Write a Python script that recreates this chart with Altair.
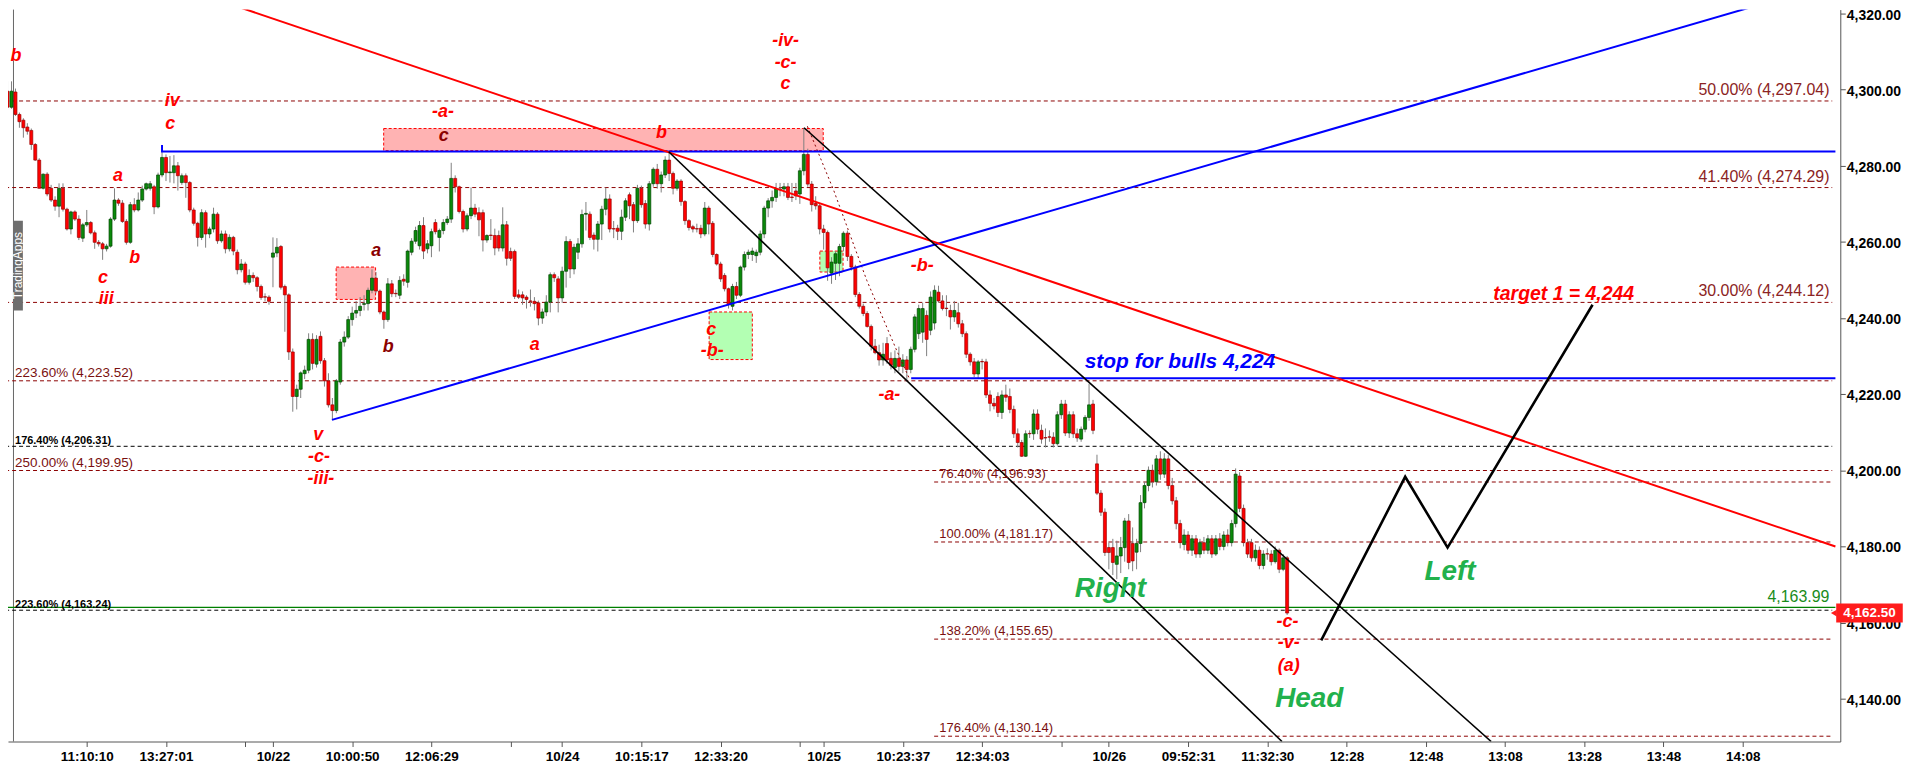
import json
import altair as alt
import pandas as pd

# ---------------- candle data (bar index = position in list) ----------------
OPEN = [4299.6, 4295.4, 4299.4, 4293.5, 4292.0, 4290.2, 4289.3, 4285.6, 4281.5, 4274.1,
        4277.8, 4274.1, 4271.0, 4269.4, 4274.1, 4268.6, 4263.4, 4267.9, 4266.0, 4261.0,
        4264.5, 4265.1, 4262.4, 4259.9, 4259.5, 4258.2, 4258.9, 4266.0, 4271.0, 4270.2,
        4265.4, 4259.9, 4269.8, 4268.4, 4271.0, 4273.9, 4274.1, 4274.5, 4269.2, 4277.6,
        4282.2, 4278.2, 4278.2, 4280.0, 4275.6, 4277.4, 4275.6, 4268.4, 4264.9, 4261.2,
        4267.7, 4262.1, 4263.4, 4267.3, 4260.3, 4262.1, 4258.2, 4261.2, 4257.3, 4252.7,
        4254.2, 4249.4, 4251.2, 4250.6, 4248.3, 4245.6, 4245.5, 4256.0, 4257.1, 4258.8,
        4248.3, 4246.1, 4231.1, 4219.4, 4221.3, 4225.4, 4226.3, 4234.4, 4227.9, 4235.2,
        4228.8, 4223.5, 4217.2, 4215.7, 4223.2, 4233.7, 4235.0, 4239.6, 4241.3, 4242.0,
        4243.6, 4243.8, 4247.3, 4250.5, 4247.1, 4241.6, 4239.6, 4249.0, 4246.5, 4246.0,
        4250.2, 4249.4, 4257.3, 4260.2, 4259.0, 4264.3, 4258.2, 4259.0, 4265.1, 4261.2,
        4263.0, 4265.1, 4266.0, 4276.7, 4274.5, 4268.0, 4263.4, 4266.9, 4268.9, 4267.7,
        4267.7, 4260.5, 4261.8, 4261.7, 4261.7, 4258.4, 4264.5, 4257.5, 4257.5, 4246.1,
        4246.1, 4245.5, 4244.5, 4244.4, 4244.0, 4240.0, 4241.6, 4244.2, 4251.4, 4250.3,
        4245.3, 4252.3, 4260.1, 4252.9, 4257.3, 4259.5, 4267.3, 4267.3, 4261.8, 4260.7,
        4264.7, 4268.6, 4271.3, 4263.5, 4263.6, 4262.8, 4266.5, 4272.4, 4269.8, 4265.6,
        4274.1, 4270.1, 4264.7, 4275.3, 4279.1, 4275.3, 4277.6, 4281.5, 4278.0, 4274.1,
        4276.0, 4270.6, 4265.6, 4264.0, 4263.5, 4263.6, 4262.1, 4268.9, 4264.9, 4256.7,
        4254.2, 4251.2, 4247.7, 4243.1, 4248.3, 4246.0, 4253.4, 4256.7, 4256.7, 4256.4,
        4257.3, 4262.1, 4268.9, 4270.8, 4271.7, 4273.8, 4273.9, 4274.5, 4271.8, 4273.4,
        4272.6, 4278.7, 4283.0, 4275.2, 4270.1, 4269.5, 4263.4, 4262.5, 4251.8, 4254.4,
        4254.4, 4258.8, 4262.3, 4256.2, 4253.4, 4246.2, 4243.1, 4241.2, 4237.8, 4232.6,
        4230.9, 4229.0, 4233.3, 4229.4, 4227.0, 4229.4, 4227.3, 4229.0, 4226.5, 4231.8,
        4235.9, 4236.3, 4240.7, 4236.8, 4238.7, 4246.8, 4244.5, 4242.6, 4242.0, 4240.3,
        4241.4, 4238.5, 4235.9, 4230.5, 4228.5, 4225.3, 4228.6, 4228.5, 4219.8, 4217.6,
        4219.4, 4215.2, 4219.8, 4219.4, 4216.0, 4209.6, 4207.3, 4203.7, 4209.7, 4209.6,
        4214.8, 4210.5, 4208.6, 4208.8, 4208.7, 4207.0, 4214.6, 4217.4, 4209.8, 4214.6,
        4209.6, 4208.2, 4210.8, 4213.9, 4217.4, 4201.7, 4194.0, 4189.0, 4179.7, 4179.7,
        4175.3, 4177.5, 4179.7, 4186.7, 4180.8, 4178.5, 4180.8, 4191.5, 4196.0, 4200.0,
        4197.0, 4203.0, 4199.0, 4203.0, 4196.0, 4192.0, 4186.0, 4180.5, 4183.0, 4179.0,
        4182.0, 4178.0, 4181.0, 4179.0, 4182.0, 4178.0, 4182.0, 4180.0, 4183.0, 4181.0,
        4186.0, 4198.5, 4190.0, 4181.0, 4181.0, 4177.0, 4179.0, 4175.0, 4178.1, 4178.0,
        4176.0, 4179.0, 4174.0, 4177.0]
HIGH = [4302.2, 4302.2, 4300.3, 4294.0, 4292.5, 4291.2, 4289.8, 4286.0, 4282.0, 4278.0,
        4278.3, 4275.0, 4272.0, 4275.4, 4275.4, 4269.0, 4268.2, 4268.3, 4267.0, 4265.0,
        4268.4, 4265.5, 4263.0, 4260.5, 4260.0, 4259.5, 4266.5, 4274.1, 4271.5, 4271.0,
        4266.0, 4270.5, 4271.5, 4273.0, 4274.8, 4275.6, 4276.0, 4275.0, 4278.2, 4284.3,
        4283.0, 4282.6, 4282.8, 4281.0, 4278.0, 4278.0, 4276.0, 4269.0, 4265.3, 4268.6,
        4268.3, 4264.0, 4269.0, 4267.8, 4263.0, 4263.0, 4262.0, 4261.6, 4258.0, 4255.5,
        4254.8, 4252.8, 4252.0, 4251.0, 4248.8, 4246.5, 4246.0, 4261.2, 4261.0, 4259.2,
        4248.8, 4246.5, 4232.0, 4222.5, 4226.0, 4227.5, 4236.0, 4236.0, 4235.5, 4236.5,
        4229.5, 4225.5, 4219.0, 4224.0, 4234.5, 4236.5, 4240.5, 4243.0, 4244.5, 4245.5,
        4246.0, 4248.0, 4252.8, 4252.1, 4247.5, 4242.0, 4250.5, 4250.0, 4247.5, 4251.0,
        4251.5, 4258.0, 4261.0, 4264.0, 4265.5, 4266.5, 4260.5, 4263.5, 4266.0, 4263.5,
        4266.0, 4266.8, 4280.8, 4277.5, 4274.8, 4268.5, 4267.5, 4274.3, 4270.0, 4269.1,
        4268.5, 4262.0, 4266.0, 4263.5, 4263.0, 4269.1, 4265.5, 4258.5, 4258.0, 4247.5,
        4247.0, 4246.0, 4247.5, 4245.5, 4244.6, 4242.5, 4246.0, 4252.0, 4252.0, 4251.0,
        4253.5, 4261.5, 4260.8, 4259.5, 4261.0, 4268.5, 4270.5, 4268.0, 4262.5, 4265.5,
        4269.5, 4274.3, 4272.5, 4265.5, 4264.5, 4268.5, 4271.5, 4273.0, 4270.5, 4275.0,
        4274.8, 4271.0, 4276.0, 4279.6, 4280.5, 4278.5, 4282.5, 4283.7, 4278.5, 4276.5,
        4276.5, 4271.0, 4266.0, 4264.5, 4264.8, 4264.5, 4270.5, 4269.5, 4265.5, 4257.0,
        4254.8, 4251.8, 4248.0, 4249.0, 4249.5, 4253.8, 4257.5, 4258.0, 4258.5, 4258.0,
        4263.0, 4269.5, 4271.5, 4273.5, 4275.5, 4275.5, 4275.5, 4275.5, 4275.5, 4275.5,
        4279.5, 4290.0, 4284.5, 4276.0, 4272.0, 4270.0, 4264.5, 4263.0, 4256.0, 4257.5,
        4259.5, 4262.8, 4263.0, 4256.8, 4254.0, 4246.8, 4243.8, 4241.8, 4238.3, 4234.5,
        4233.0, 4233.5, 4235.0, 4231.0, 4231.5, 4232.5, 4230.5, 4230.0, 4232.5, 4241.0,
        4243.5, 4244.0, 4242.0, 4247.0, 4248.6, 4248.5, 4246.0, 4246.0, 4243.5, 4244.5,
        4244.0, 4239.5, 4236.5, 4231.0, 4229.5, 4229.0, 4229.3, 4229.3, 4221.0, 4219.0,
        4220.5, 4221.0, 4222.5, 4221.5, 4217.0, 4211.0, 4208.0, 4210.5, 4210.5, 4216.0,
        4216.0, 4212.0, 4211.0, 4210.5, 4210.0, 4215.5, 4218.5, 4218.5, 4215.5, 4215.5,
        4211.0, 4211.5, 4214.5, 4222.7, 4218.5, 4204.1, 4194.8, 4190.0, 4181.0, 4182.0,
        4181.5, 4182.5, 4187.5, 4188.5, 4185.0, 4182.0, 4193.5, 4197.0, 4201.0, 4201.5,
        4204.0, 4205.0, 4204.5, 4204.0, 4198.0, 4193.0, 4187.0, 4184.5, 4184.0, 4183.0,
        4183.0, 4182.0, 4182.5, 4183.0, 4183.0, 4183.0, 4183.5, 4184.0, 4184.5, 4187.0,
        4200.5, 4199.5, 4191.0, 4182.0, 4182.0, 4180.5, 4180.0, 4179.0, 4179.5, 4179.0,
        4180.0, 4179.5, 4178.0, 4177.5]
LOW = [4294.8, 4295.0, 4293.1, 4290.0, 4287.4, 4288.2, 4284.2, 4281.3, 4274.0, 4273.8,
       4272.0, 4270.5, 4268.2, 4266.5, 4268.0, 4263.0, 4262.0, 4265.5, 4260.5, 4260.0,
       4264.0, 4262.0, 4258.2, 4258.8, 4255.3, 4257.5, 4258.5, 4265.5, 4269.5, 4265.0,
       4259.3, 4259.5, 4267.8, 4268.0, 4270.5, 4273.5, 4273.5, 4267.3, 4268.8, 4277.0,
       4276.0, 4275.6, 4275.4, 4273.5, 4275.0, 4271.6, 4267.8, 4264.3, 4258.8, 4260.5,
       4258.5, 4261.0, 4262.5, 4259.5, 4259.8, 4257.0, 4257.5, 4256.5, 4251.5, 4252.0,
       4248.8, 4248.8, 4249.5, 4247.0, 4244.8, 4244.4, 4243.5, 4248.1, 4256.0, 4247.5,
       4236.4, 4229.0, 4215.4, 4216.0, 4219.0, 4224.0, 4225.5, 4226.5, 4227.0, 4228.0,
       4222.0, 4216.5, 4213.3, 4215.0, 4222.5, 4232.5, 4234.5, 4238.0, 4240.0, 4240.5,
       4242.0, 4242.0, 4246.5, 4246.5, 4241.0, 4237.2, 4239.0, 4245.5, 4245.5, 4245.0,
       4248.5, 4248.0, 4256.5, 4259.5, 4258.0, 4255.5, 4257.0, 4256.0, 4262.0, 4257.5,
       4262.0, 4264.5, 4265.0, 4273.0, 4267.5, 4262.5, 4262.8, 4266.0, 4266.5, 4261.5,
       4257.5, 4259.8, 4260.5, 4256.5, 4257.5, 4257.5, 4253.8, 4255.0, 4245.0, 4245.0,
       4243.5, 4242.5, 4243.0, 4242.0, 4238.1, 4238.5, 4240.5, 4241.5, 4249.5, 4241.5,
       4244.0, 4248.0, 4250.5, 4251.5, 4255.5, 4258.5, 4263.0, 4260.5, 4258.0, 4257.5,
       4260.5, 4267.0, 4262.5, 4261.0, 4260.5, 4260.5, 4265.5, 4266.0, 4262.5, 4265.0,
       4269.0, 4263.5, 4263.0, 4274.5, 4274.0, 4273.0, 4276.8, 4276.0, 4272.5, 4273.5,
       4269.5, 4264.5, 4263.0, 4262.5, 4262.5, 4261.0, 4261.5, 4262.0, 4256.0, 4253.8,
       4249.5, 4247.0, 4242.5, 4242.0, 4245.0, 4245.5, 4252.5, 4255.5, 4255.0, 4254.5,
       4256.5, 4261.0, 4266.5, 4269.0, 4270.5, 4272.0, 4272.0, 4271.0, 4270.5, 4271.0,
       4270.0, 4277.5, 4274.5, 4268.0, 4268.5, 4262.0, 4258.0, 4249.8, 4249.0, 4250.0,
       4251.0, 4257.5, 4255.0, 4252.5, 4245.5, 4242.5, 4240.5, 4237.5, 4231.5, 4230.5,
       4227.5, 4227.5, 4228.0, 4226.5, 4225.5, 4226.0, 4225.5, 4223.7, 4225.5, 4231.0,
       4234.5, 4233.5, 4230.0, 4235.5, 4237.0, 4244.0, 4242.0, 4240.5, 4237.0, 4239.0,
       4237.5, 4235.0, 4229.5, 4227.5, 4224.5, 4224.0, 4226.5, 4219.0, 4215.5, 4216.0,
       4214.0, 4213.5, 4218.0, 4215.0, 4208.5, 4206.0, 4203.5, 4203.5, 4208.5, 4208.0,
       4209.5, 4207.0, 4206.0, 4207.5, 4206.0, 4206.5, 4213.5, 4209.0, 4208.5, 4208.5,
       4207.5, 4207.5, 4210.0, 4213.0, 4209.5, 4193.5, 4188.0, 4177.5, 4174.0, 4172.5,
       4171.4, 4173.0, 4176.0, 4174.0, 4173.5, 4174.0, 4178.5, 4190.0, 4194.5, 4195.5,
       4196.0, 4197.5, 4198.0, 4195.0, 4191.0, 4184.5, 4179.5, 4179.0, 4178.0, 4177.5,
       4177.0, 4177.0, 4178.0, 4178.0, 4177.0, 4177.5, 4179.0, 4179.0, 4180.0, 4180.0,
       4185.0, 4189.0, 4180.0, 4177.0, 4176.0, 4176.0, 4174.0, 4174.0, 4176.5, 4175.0,
       4175.5, 4173.0, 4173.5, 4162.0]
CLOSE = [4295.4, 4299.6, 4293.5, 4291.6, 4290.0, 4289.1, 4285.6, 4281.5, 4274.1, 4277.8,
         4272.6, 4271.0, 4269.4, 4274.1, 4268.6, 4263.4, 4267.9, 4266.0, 4261.2, 4264.5,
         4265.1, 4262.4, 4259.9, 4259.5, 4258.2, 4258.9, 4266.0, 4271.0, 4270.2, 4265.4,
         4259.9, 4269.8, 4268.4, 4271.0, 4273.9, 4275.3, 4275.3, 4269.2, 4277.6, 4282.2,
         4278.2, 4278.4, 4280.0, 4277.4, 4277.4, 4275.6, 4268.4, 4264.9, 4261.2, 4267.7,
         4262.1, 4263.4, 4267.3, 4260.3, 4262.1, 4258.2, 4261.2, 4257.6, 4252.7, 4254.2,
         4249.4, 4251.2, 4250.6, 4248.3, 4245.4, 4245.5, 4244.4, 4257.1, 4258.6, 4248.1,
         4246.1, 4231.1, 4219.4, 4221.3, 4225.6, 4226.3, 4234.4, 4228.1, 4234.4, 4228.8,
         4223.5, 4217.2, 4215.7, 4223.5, 4233.7, 4235.0, 4239.6, 4241.3, 4242.0, 4243.1,
         4243.8, 4247.3, 4250.5, 4247.1, 4241.6, 4239.6, 4249.0, 4246.4, 4246.4, 4249.9,
         4249.7, 4257.6, 4260.2, 4263.0, 4264.3, 4257.6, 4259.5, 4262.7, 4262.7, 4263.0,
         4265.1, 4266.0, 4276.7, 4274.5, 4268.0, 4263.4, 4266.9, 4268.9, 4267.3, 4265.8,
         4260.5, 4261.7, 4261.7, 4258.4, 4258.4, 4264.5, 4255.7, 4255.7, 4245.7, 4245.5,
         4245.3, 4244.9, 4244.4, 4243.8, 4240.0, 4241.6, 4244.2, 4251.4, 4250.6, 4245.3,
         4252.3, 4260.1, 4252.9, 4258.6, 4259.5, 4267.2, 4267.5, 4261.2, 4260.7, 4264.7,
         4268.6, 4271.3, 4263.4, 4263.4, 4262.8, 4266.5, 4270.8, 4269.5, 4265.6, 4274.1,
         4269.8, 4264.7, 4275.3, 4279.1, 4275.3, 4277.6, 4281.5, 4278.0, 4274.1, 4276.0,
         4270.6, 4265.6, 4263.8, 4263.4, 4263.4, 4262.1, 4268.9, 4264.7, 4256.7, 4254.2,
         4250.3, 4247.7, 4243.6, 4248.3, 4246.0, 4253.4, 4256.7, 4257.3, 4257.6, 4257.3,
         4262.1, 4268.9, 4270.8, 4271.7, 4273.9, 4273.9, 4274.5, 4271.7, 4271.7, 4272.1,
         4278.7, 4283.0, 4275.2, 4269.8, 4269.5, 4263.4, 4262.5, 4253.2, 4254.7, 4256.9,
         4258.8, 4262.3, 4256.2, 4253.4, 4246.2, 4243.1, 4241.2, 4237.8, 4232.6, 4230.9,
         4229.0, 4230.5, 4229.0, 4227.6, 4229.4, 4227.3, 4229.0, 4226.5, 4231.8, 4240.3,
         4242.5, 4242.5, 4234.4, 4245.5, 4247.3, 4244.5, 4242.5, 4242.5, 4240.3, 4242.0,
         4238.5, 4235.9, 4230.5, 4228.5, 4225.3, 4228.5, 4228.5, 4219.8, 4217.6, 4216.9,
         4215.2, 4219.8, 4219.2, 4216.0, 4209.6, 4207.3, 4203.7, 4209.6, 4209.6, 4214.8,
         4210.8, 4208.2, 4208.5, 4208.7, 4207.0, 4214.6, 4217.4, 4209.8, 4214.6, 4209.6,
         4208.5, 4210.8, 4213.9, 4217.2, 4210.5, 4194.0, 4189.0, 4178.4, 4178.4, 4175.8,
         4177.5, 4179.7, 4186.7, 4175.8, 4176.2, 4180.8, 4191.5, 4196.0, 4200.0, 4197.0,
         4203.0, 4199.0, 4203.0, 4196.0, 4192.0, 4186.0, 4181.0, 4183.0, 4179.0, 4182.0,
         4178.0, 4181.0, 4179.0, 4182.0, 4178.0, 4182.0, 4180.0, 4183.0, 4181.0, 4186.0,
         4199.0, 4190.0, 4181.0, 4178.0, 4177.0, 4179.0, 4175.0, 4178.0, 4178.0, 4176.0,
         4179.0, 4174.0, 4177.0, 4162.5]

# ---------------- axes ----------------
TICK_BARS = [20, 40, 60, 67, 87, 107, 127, 140, 160, 180, 200, 206, 226, 246, 266,
             278, 298, 318, 338, 358, 378, 398, 418, 438]
TICK_TEXT = ["11:10:10", "13:27:01", "", "10/22", "10:00:50", "12:06:29", "", "10/24",
             "10:15:17", "12:33:20", "", "10/25", "10:23:37", "12:34:03", "", "10/26",
             "09:52:31", "11:32:30", "12:28", "12:48", "13:08", "13:28", "13:48", "14:08"]
PRICE_TICKS = [4140, 4160, 4180, 4200, 4220, 4240, 4260, 4280, 4300, 4320]
LAST_PRICE = 4162.50

# ---------------- fibonacci levels ----------------
FIB_RIGHT_VALUES = [4297.04, 4274.29, 4244.12]
FIB_RIGHT_TEXT = ["50.00% (4,297.04)", "41.40% (4,274.29)", "30.00% (4,244.12)"]
FIB_LEFT_VALUES = [4223.52, 4199.95]
FIB_LEFT_TEXT = ["223.60% (4,223.52)", "250.00% (4,199.95)"]
FIB_BLACK_VALUES = [4206.31, 4163.24]
FIB_BLACK_TEXT = ["176.40% (4,206.31)", "223.60% (4,163.24)"]
FIB_MID_VALUES = [4196.93, 4181.17, 4155.65, 4130.14]
FIB_MID_TEXT = ["76.40% (4,196.93)", "100.00% (4,181.17)", "138.20% (4,155.65)", "176.40% (4,130.14)"]
GREEN_LEVEL = 4163.99
FULL_START, MID_START, LEVEL_END = -0.6, 233.9, 460.6

# ---------------- drawings (bar, price) ----------------
RED_LINE = [(53.0, 4323.6), (461.4, 4180.0)]
BLUE_RISE = [(81.9, 4213.25), (444.8, 4323.1)]
BLUE_FLAT = [(39.0, 4285.5), (39.0, 4283.75), (461.4, 4283.75)]
BLUE_STOP = [(228.1, 4224.17), (461.4, 4224.17)]
CHANNEL_A = [(166.9, 4283.7), (321.7, 4128.75)]
CHANNEL_B = [(201.05, 4290.0), (374.5, 4128.75)]
FORECAST = [(331.6, 4155.3), (352.8, 4198.3), (363.5, 4179.7), (400.1, 4243.5)]
DOTTED = [(201.9, 4290.4), (208.6, 4273.4), (216.9, 4249.9), (224.4, 4231.6), (227.6, 4224.2)]

# boxes: (b0, b1, p0, p1)
PINK_BOXES = [(94.95, 205.9, 4284.0, 4289.8), (82.95, 92.9, 4244.9, 4253.4)]
GREEN_BOXES = [(177.1, 188.0, 4229.1, 4241.6), (205.05, 210.9, 4252.1, 4257.6)]

# ---------------- wave labels ----------------
WAVE_TEXT = ["b", "iv", "c", "a", "b", "c", "iii", "a", "b", "v", "-c-", "-iii-", "a",
             "-iv-", "-c-", "c", "-a-", "c", "b", "c", "-b-", "-a-", "-b-", "-c-", "-v-", "(a)"]
WAVE_B = [2.1, 41.6, 41.1, 27.9, 32.1, 24.1, 24.9, 93.1, 96.1, 78.4, 78.6, 79.1, 133.1,
          196.4, 196.4, 196.4, 109.9, 110.1, 165.1, 177.6, 177.9, 222.6, 230.9, 323.1, 323.4, 323.4]
WAVE_P = [4308.75, 4296.98, 4290.96, 4277.35, 4255.9, 4250.4, 4244.9, 4257.7, 4232.4, 4209.3,
          4203.6, 4197.6, 4232.9, 4312.9, 4306.9, 4301.4, 4294.1, 4287.8, 4288.6, 4236.8,
          4231.3, 4219.8, 4253.8, 4160.1, 4154.6, 4148.6]
WAVE_COLOR = ["#ff0000", "#ff0000", "#ff0000", "#ff0000", "#ff0000", "#ff0000", "#ff0000",
              "#8b0000", "#8b0000", "#ff0000", "#ff0000", "#ff0000", "#ff0000",
              "#ff0000", "#ff0000", "#ff0000", "#ff0000", "#8b0000", "#ff0000", "#ff0000",
              "#ff0000", "#ff0000", "#ff0000", "#ff0000", "#ff0000", "#ff0000"]

PATTERN_TEXT = ["Right", "Head", "Left"]
PATTERN_B = [278.4, 328.6, 364.1]
PATTERN_P = [4168.8, 4140.0, 4173.4]

TARGET = ("target 1 = 4,244", 375.05, 4244.8)
STOP = ("stop for bulls 4,224", 271.9, 4226.8)

# ---------------- scales / axes ----------------
XS = alt.Scale(domain=[1.375, 461.375], nice=False, zero=False)
YS = alt.Scale(domain=[4128.75, 4321.05], nice=False, zero=False)
FONT = "Liberation Sans"

label_expr = f"{json.dumps(TICK_TEXT)}[indexof({json.dumps(TICK_BARS)}, datum.value)]"
X_AXIS = alt.Axis(values=TICK_BARS, labelExpr=label_expr, grid=False, tickSize=5,
                  tickColor="#555555", domainColor="#555555", labelFont=FONT,
                  labelFontWeight="bold", labelFontSize=13.5, labelColor="black",
                  labelPadding=3, title=None, labelOverlap=False, labelFlush=False)
Y_AXIS = alt.Axis(orient="right", values=PRICE_TICKS, format=",.2f", grid=False, tickSize=5,
                  tickColor="#555555", domainColor="#555555", labelFont=FONT,
                  labelFontWeight="bold", labelFontSize=14, labelColor="black",
                  labelPadding=1, labelOffset=1.5, title=None, labelFlush=False)


def X(field):
    return alt.X(field, type="quantitative", scale=XS, axis=X_AXIS)


def Y(field):
    return alt.Y(field, type="quantitative", scale=YS, axis=Y_AXIS)


candles = pd.DataFrame({"b": list(range(len(OPEN))), "open": OPEN, "high": HIGH,
                        "low": LOW, "close": CLOSE})
candles["dir"] = ["up" if c >= o else "down" for o, c in zip(OPEN, CLOSE)]

layers = []

# left frame line
frame = pd.DataFrame({"b": [1.5], "p0": [4128.75], "p1": [4321.05]})
layers.append(alt.Chart(frame).mark_rule(color="#666666", strokeWidth=1).encode(
    x=X("b"), y=Y("p0"), y2="p1"))


def boxes(rows, fill):
    df = pd.DataFrame(rows, columns=["b0", "b1", "p0", "p1"])
    return alt.Chart(df).mark_rect(fill=fill, stroke="#ff0000", strokeDash=[3, 2],
                                   strokeWidth=1, clip=True).encode(
        x=X("b0"), x2="b1", y=Y("p0"), y2="p1")


layers.append(boxes(PINK_BOXES, "#ffb3b3"))
layers.append(boxes(GREEN_BOXES, "#b3ffb3"))


def hlines(values, b0, b1, color, dash, width=1):
    df = pd.DataFrame({"p": values, "b0": b0, "b1": b1})
    kw = dict(color=color, strokeWidth=width, clip=True)
    if dash:
        kw["strokeDash"] = dash
    return alt.Chart(df).mark_rule(**kw).encode(x=X("b0"), x2="b1", y=Y("p"))


layers.append(hlines(FIB_RIGHT_VALUES + FIB_LEFT_VALUES, FULL_START, LEVEL_END, "#8b0000", [4, 3]))
layers.append(hlines(FIB_MID_VALUES, MID_START, LEVEL_END, "#8b0000", [4, 3]))
layers.append(hlines(FIB_BLACK_VALUES, FULL_START, LEVEL_END, "#000000", [4, 3]))
layers.append(hlines([GREEN_LEVEL], FULL_START, 461.4, "#008000", None, 1.2))

# watermark
wm = pd.DataFrame({"b0": [1.375], "b1": [3.875], "p0": [4242.0], "p1": [4265.6],
                   "b": [2.6], "p": [4253.8], "t": ["TradingApps"]})
layers.append(alt.Chart(wm).mark_rect(fill="#6e6e6e").encode(x=X("b0"), x2="b1", y=Y("p0"), y2="p1"))
layers.append(alt.Chart(wm).mark_text(angle=270, color="white", fontSize=12, font=FONT).encode(
    x=X("b"), y=Y("p"), text="t:N"))

# candles
layers.append(alt.Chart(candles).mark_rule(color="#7f7f7f", strokeWidth=1, clip=True).encode(
    x=X("b"), y=Y("low"), y2="high"))
layers.append(alt.Chart(candles).mark_bar(size=3, strokeWidth=0.7, clip=True).encode(
    x=X("b"), y=Y("open"), y2="close",
    color=alt.Color("dir:N", scale=alt.Scale(domain=["up", "down"], range=["#0a8a0a", "#ff0000"]), legend=None),
    stroke=alt.Stroke("dir:N", scale=alt.Scale(domain=["up", "down"], range=["#004400", "#990000"]), legend=None)))


def poly(points, color, width, dash=None):
    df = pd.DataFrame(points, columns=["b", "p"])
    df["o"] = range(len(df))
    kw = dict(color=color, strokeWidth=width, clip=True)
    if dash:
        kw["strokeDash"] = dash
    return alt.Chart(df).mark_line(**kw).encode(x=X("b"), y=Y("p"), order="o:Q")


layers.append(poly(DOTTED, "#8b0000", 1, [2, 3]))
layers.append(poly(BLUE_FLAT, "#0000ff", 2))
layers.append(poly(BLUE_STOP, "#0000ff", 2))
layers.append(poly(BLUE_RISE, "#0000ff", 2))
layers.append(poly(RED_LINE, "#ff0000", 2))
layers.append(poly(CHANNEL_A, "#000000", 1.6))
layers.append(poly(CHANNEL_B, "#000000", 1.6))
layers.append(poly(FORECAST, "#000000", 2.6))


def labels(texts, values, bpos, align, dy, size, color, weight="normal"):
    df = pd.DataFrame({"t": texts, "p": values, "b": bpos})
    return alt.Chart(df).mark_text(align=align, baseline="alphabetic", dy=dy, fontSize=size,
                                   color=color, font=FONT, fontWeight=weight).encode(
        x=X("b"), y=Y("p"), text="t:N")


layers.append(labels(FIB_RIGHT_TEXT, FIB_RIGHT_VALUES, 459.9, "right", -6, 16, "#8b2323"))
layers.append(labels(["4,163.99"], [GREEN_LEVEL], 459.9, "right", -5, 16, "#1a8c1a"))
layers.append(labels(FIB_LEFT_TEXT, FIB_LEFT_VALUES, 1.9, "left", -4, 13.5, "#7a1010"))
layers.append(labels(FIB_BLACK_TEXT, FIB_BLACK_VALUES, 1.9, "left", -2.5, 11, "#000000", "bold"))
layers.append(labels(FIB_MID_TEXT, FIB_MID_VALUES, 235.2, "left", -4, 13, "#7a1010"))

waves = pd.DataFrame({"t": WAVE_TEXT, "b": WAVE_B, "p": WAVE_P, "c": WAVE_COLOR})
layers.append(alt.Chart(waves).mark_text(fontSize=18, fontStyle="italic", fontWeight="bold",
                                         font=FONT, baseline="middle").encode(
    x=X("b"), y=Y("p"), text="t:N", color=alt.Color("c:N", scale=None)))

pat = pd.DataFrame({"t": PATTERN_TEXT, "b": PATTERN_B, "p": PATTERN_P})
layers.append(alt.Chart(pat).mark_text(fontSize=28, fontStyle="italic", fontWeight="bold",
                                       font=FONT, baseline="middle", color="#22b14c").encode(
    x=X("b"), y=Y("p"), text="t:N"))

tgt = pd.DataFrame({"t": [TARGET[0]], "b": [TARGET[1]], "p": [TARGET[2]]})
layers.append(alt.Chart(tgt).mark_text(fontSize=19.5, fontStyle="italic", fontWeight="bold", font=FONT,
                                       align="left", baseline="alphabetic", color="#ff0000").encode(
    x=X("b"), y=Y("p"), text="t:N"))
stp = pd.DataFrame({"t": [STOP[0]], "b": [STOP[1]], "p": [STOP[2]]})
layers.append(alt.Chart(stp).mark_text(fontSize=21, fontStyle="italic", fontWeight="bold", font=FONT,
                                       align="left", baseline="alphabetic", color="#0000ff").encode(
    x=X("b"), y=Y("p"), text="t:N"))

# last price tag on the axis
tag = pd.DataFrame({"b0": [461.6], "b1": [478.4], "p0": [LAST_PRICE - 2.5], "p1": [LAST_PRICE + 2.5],
                    "b": [470.0], "bt": [461.0], "p": [LAST_PRICE], "t": ["4,162.50"]})
layers.append(alt.Chart(tag).mark_rect(fill="#ff1c1c").encode(x=X("b0"), x2="b1", y=Y("p0"), y2="p1"))
layers.append(alt.Chart(tag).mark_point(shape="triangle-left", filled=True, size=45, color="#ff1c1c",
                                        opacity=1).encode(x=X("bt"), y=Y("p")))
layers.append(alt.Chart(tag).mark_text(color="white", fontWeight="bold", fontSize=13.5, font=FONT,
                                       baseline="middle").encode(x=X("b"), y=Y("p"), text="t:N"))

chart = alt.layer(*layers).properties(
    width=1840, height=735,
    autosize=alt.AutoSizeParams(type="none"),
    padding={"left": 0, "top": 0, "right": 71, "bottom": 22},
    background="white",
).configure_view(stroke=None)

chart.save("out.html", embed_options={"renderer": "svg", "actions": False})
